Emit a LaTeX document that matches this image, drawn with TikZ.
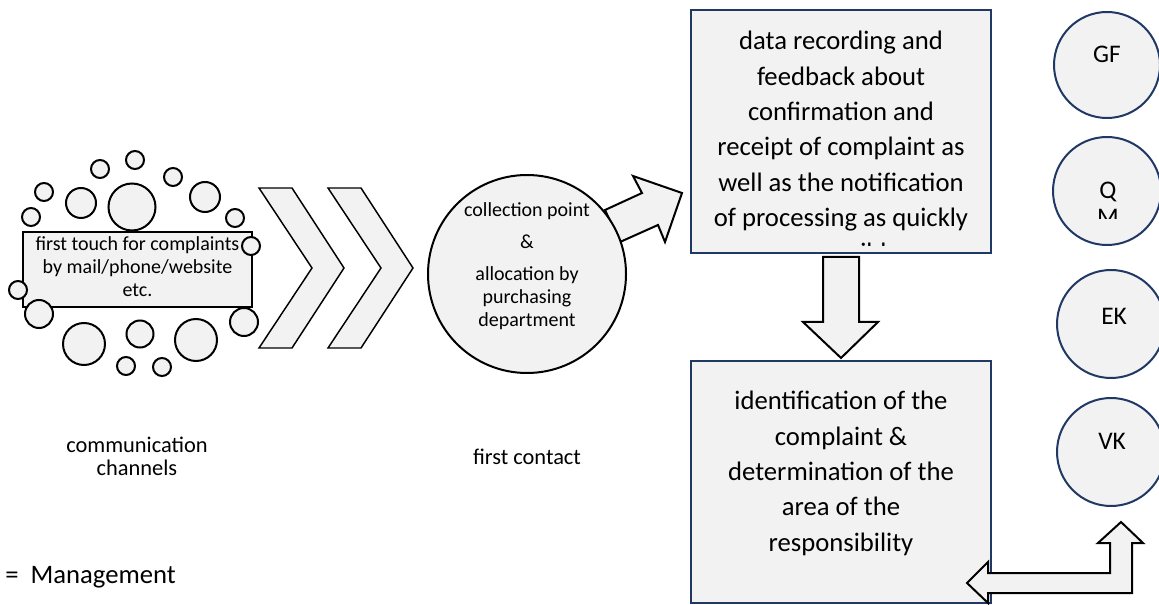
\documentclass[tikz,border=0pt]{standalone}
\usepackage{fontspec}
\setmainfont{Carlito}
\usetikzlibrary{arrows.meta, calc, positioning}
\definecolor{boxgray}{HTML}{F2F2F2}
\definecolor{navyline}{HTML}{203864}

\begin{document}
\begin{tikzpicture}[x=0.75pt, y=-0.75pt,
    bubble/.style={draw=black, line width=1.5pt, fill=boxgray},
    chevron/.style={draw=black, line width=1.1pt, fill=boxgray, line join=miter},
    fatarrow/.style={draw=black, line width=1.5pt, fill=boxgray, line join=miter},
    stagebox/.style={draw=navyline, line width=1.5pt, fill=boxgray},
    deptcircle/.style={draw=navyline, line width=1.5pt, fill=boxgray},
    boxtext/.style={align=center, inner sep=0pt, anchor=base, font=\fontsize{20}{26.5}\selectfont},
    smalltext/.style={align=center, inner sep=0pt, anchor=base, font=\fontsize{15}{17.25}\selectfont},
    labeltext/.style={align=center, inner sep=0pt, anchor=base, font=\fontsize{16.8}{17.25}\selectfont},
    depttext/.style={inner sep=0pt, anchor=base, font=\fontsize{19}{23}\selectfont}]
    \useasboundingbox (0,0) rectangle (1159,605);

    \draw[line width=1.1pt, fill=boxgray] (23,232) rectangle (252,307);
    \node[smalltext] (touch) at (137.5,297) {first touch for complaints\\by mail/phone/website\\etc.};
    \foreach \cx/\cy/\r in {135/160/9, 100/169/9, 44/192/9, 173/177/9, 31/217/9,
        81/203/15, 132/207/23.5, 205/197/15, 235/218/9, 251/246/9, 18/290/9,
        39/314/14, 84/344/21, 140/334/13.5, 196/340/21, 244/322/14, 126/366/9, 162/367/9}
        \draw[bubble] (\cx,\cy) circle (\r);
    \node[labeltext] (channels) at (137,475) {communication\\channels};

    \foreach \dx in {0,69}
        \draw[chevron] ({259+\dx},188) -- ({292+\dx},188) -- ({344+\dx},268)
            -- ({292+\dx},348) -- ({259+\dx},348) -- ({312+\dx},268) -- cycle;

    \draw[fatarrow] (605,210) -- (642,193) -- (633,176) -- (682,193)
        -- (665,242) -- (658,225) -- (620,242) -- cycle;
    \draw[bubble] (527,274) circle (99);
    \node[smalltext] (collect) at (527,327)
        {collection point\\[6.75pt]\&\\[6.75pt]allocation by\\purchasing\\department};
    \node[labeltext] (contact) at (527,464) {first contact};

    \draw[stagebox] (691,10) rectangle (991,253);
    \begin{scope}
        \clip (691,10) rectangle (991,246);
        \node[boxtext] (record) at (841,262) {data recording and\\feedback about\\confirmation and\\receipt of complaint as\\well as the notification\\of processing as quickly\\as possible};
    \end{scope}

    \draw[fatarrow] (823,257) -- (859,257) -- (859,322) -- (878,322)
        -- (841,358) -- (803,322) -- (823,322) -- cycle;

    \draw[stagebox] (691,361) rectangle (991,603);
    \node[boxtext] (identify) at (841,551) {identification of the\\complaint \&\\determination of the\\area of the\\responsibility};

    \draw[fatarrow] (967,583) -- (988,562) -- (988,573) -- (1110,573) -- (1110,543)
        -- (1098,543) -- (1121,522) -- (1143,543) -- (1132,543) -- (1132,593)
        -- (988,593) -- (988,603) -- cycle;

    \draw[deptcircle] (1107,65) circle (53);
    \node[depttext] (gf) at (1107,63) {GF};
    \draw[deptcircle] (1107,191) circle (54);
    \begin{scope}
        \clip (1050,140) rectangle (1165,219);
        \node[depttext] (qm) at (1108,199) {Q};
        \node[depttext] (qmrest) at (1108,226) {M};
    \end{scope}
    \draw[deptcircle] (1111,324) circle (54);
    \node[depttext] (ek) at (1114,325) {EK};
    \draw[deptcircle] (1111,452) circle (54);
    \node[depttext] (vk) at (1112,450) {VK};

    \node[inner sep=0pt, anchor=base west, font=\fontsize{20}{23}\selectfont] (mgmt) at (5,583) {=\ \ Management};
\end{tikzpicture}
\end{document}
